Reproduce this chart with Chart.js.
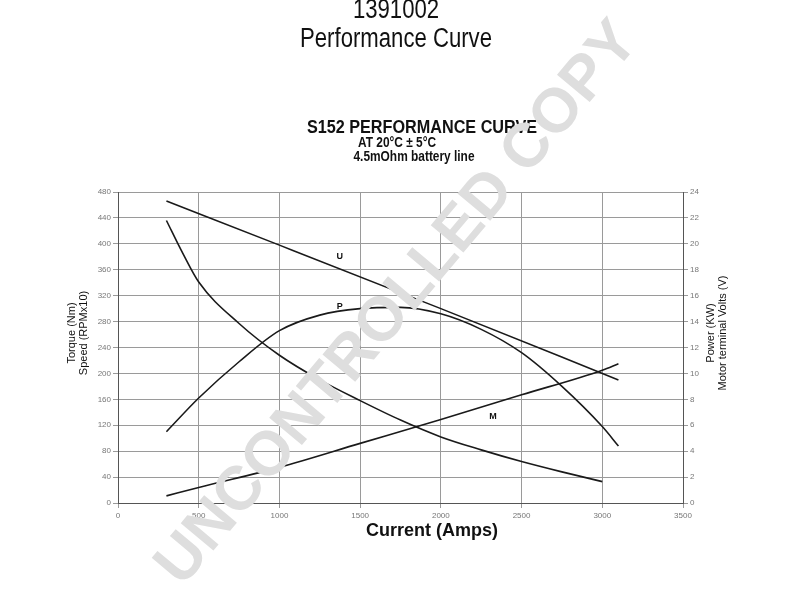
<!DOCTYPE html>
<html>
<head>
<meta charset="utf-8">
<title>1391002 Performance Curve</title>
<script src="https://cdn.jsdelivr.net/npm/chart.js@4/dist/chart.umd.min.js"></script>
<style>
  body { margin: 0; background: #fff; }
  canvas { display: block; }
</style>
</head>
<body>
<canvas id="chart" width="800" height="600"></canvas>
<script>
// values (current in A)
const speedAmps = [300, 400, 500, 750, 1000, 1250, 1500, 1750, 2000, 2250, 2500, 2750, 3000];
const speedRpm10 = [436, 386, 341, 277, 228, 190, 158, 128, 102, 82, 64, 48, 33];

const torqueAmps = [300, 500, 1000, 1500, 2000, 2500, 3000, 3100];
const torqueNm = [11, 24, 55, 92, 129, 167, 205, 215];

const powerAmps = [300, 500, 750, 1000, 1250, 1500, 1750, 2000, 2250, 2500, 2750, 3000, 3100];
const powerKw = [5.5, 8.1, 10.9, 13.3, 14.5, 15.0, 15.1, 14.6, 13.4, 11.6, 9.0, 5.9, 4.4];

const voltsAmps = [300, 1000, 2000, 3100];
const voltsV = [23.3, 19.9, 15.0, 9.5];

const curveLabels = [
    { text: 'U', amps: 1374, value: 380 },
    { text: 'P', amps: 1374, value: 303 },
    { text: 'M', amps: 2323, value: 134 }
];

function toPoints(xs, ys) {
    return xs.map((x, i) => ({ x: x, y: ys[i] }));
}

const lineStyle = {
    borderColor: '#1a1a1a',
    borderWidth: 1.6,
    pointRadius: 0,
    fill: false,
    cubicInterpolationMode: 'monotone'
};

const tickFont = { family: 'Liberation Sans', size: 8 };
const plainNumber = v => String(v);

// narrow text: draw normal font squeezed horizontally
function narrowText(ctx, text, x, y, squeeze) {
    ctx.save();
    ctx.translate(x, y);
    ctx.scale(squeeze, 1);
    ctx.fillText(text, 0, 0);
    ctx.restore();
}

const sheetText = {
    id: 'sheetText',
    afterDraw(chart) {
        const ctx = chart.ctx;
        const xs = chart.scales.x;
        const ys = chart.scales.y;
        ctx.save();
        ctx.fillStyle = '#111';
        ctx.textAlign = 'center';
        ctx.textBaseline = 'middle';

        ctx.font = '27px "Liberation Sans"';
        narrowText(ctx, '1391002', 396, 11, 0.82);
        narrowText(ctx, 'Performance Curve', 396, 40, 0.82);

        ctx.font = 'bold 18px "Liberation Sans"';
        narrowText(ctx, 'S152 PERFORMANCE CURVE', 422, 128, 0.9);
        ctx.font = 'bold 14px "Liberation Sans"';
        narrowText(ctx, 'AT 20°C ± 5°C', 397, 143, 0.85);
        narrowText(ctx, '4.5mOhm battery line', 414, 157, 0.85);

        ctx.font = 'bold 18px "Liberation Sans"';
        ctx.fillText('Current (Amps)', 432, 531);

        ctx.font = '11px "Liberation Sans"';
        ctx.save();
        ctx.translate(72, 333);
        ctx.rotate(-Math.PI / 2);
        ctx.fillText('Torque (Nm)', 0, 0);
        ctx.fillText('Speed (RPMx10)', 0, 12);
        ctx.restore();
        ctx.save();
        ctx.translate(711, 333);
        ctx.rotate(-Math.PI / 2);
        ctx.fillText('Power (KW)', 0, 0);
        ctx.fillText('Motor terminal Volts (V)', 0, 12);
        ctx.restore();

        ctx.font = 'bold 9px "Liberation Sans"';
        curveLabels.forEach(l => {
            ctx.fillText(l.text, xs.getPixelForValue(l.amps), ys.getPixelForValue(l.value));
        });

        // watermark stamped over everything
        ctx.translate(398, 304);
        ctx.rotate(-50 * Math.PI / 180);
        ctx.font = 'bold 62px "Liberation Sans"';
        ctx.fillStyle = '#dedede';
        ctx.fillText('UNCONTROLLED COPY', 0, 0);
        ctx.restore();
    }
};

new Chart(document.getElementById('chart').getContext('2d'), {
    type: 'line',
    data: {
        datasets: [
            Object.assign({ label: 'Voltage U', data: toPoints(voltsAmps, voltsV), yAxisID: 'y1' }, lineStyle),
            Object.assign({ label: 'Power P', data: toPoints(powerAmps, powerKw), yAxisID: 'y1' }, lineStyle),
            Object.assign({ label: 'Speed', data: toPoints(speedAmps, speedRpm10), yAxisID: 'y' }, lineStyle),
            Object.assign({ label: 'Torque M', data: toPoints(torqueAmps, torqueNm), yAxisID: 'y' }, lineStyle)
        ]
    },
    options: {
        responsive: false,
        animation: false,
        layout: { padding: { top: 192, left: 0, right: 0, bottom: 0 } },
        plugins: {
            legend: { display: false },
            tooltip: { enabled: false }
        },
        scales: {
            x: {
                type: 'linear',
                min: 0,
                max: 3500,
                ticks: { stepSize: 500, autoSkip: false, maxRotation: 0, color: '#777', font: tickFont, padding: 3, callback: plainNumber },
                grid: { color: '#9a9a9a', tickLength: 5 },
                border: { color: '#555' },
                afterFit(scale) { scale.height = 97; }
            },
            y: {
                position: 'left',
                min: 0,
                max: 480,
                ticks: { stepSize: 40, color: '#777', font: tickFont, padding: 2, callback: plainNumber },
                grid: { color: '#9a9a9a', tickLength: 5 },
                border: { color: '#555' },
                afterFit(scale) { scale.width = 118; }
            },
            y1: {
                position: 'right',
                min: 0,
                max: 24,
                ticks: { stepSize: 2, color: '#777', font: tickFont, padding: 2, callback: plainNumber },
                grid: { drawOnChartArea: false, color: '#9a9a9a', tickLength: 5 },
                border: { color: '#555' },
                afterFit(scale) { scale.width = 117; }
            }
        }
    },
    plugins: [sheetText]
});
</script>
</body>
</html>
